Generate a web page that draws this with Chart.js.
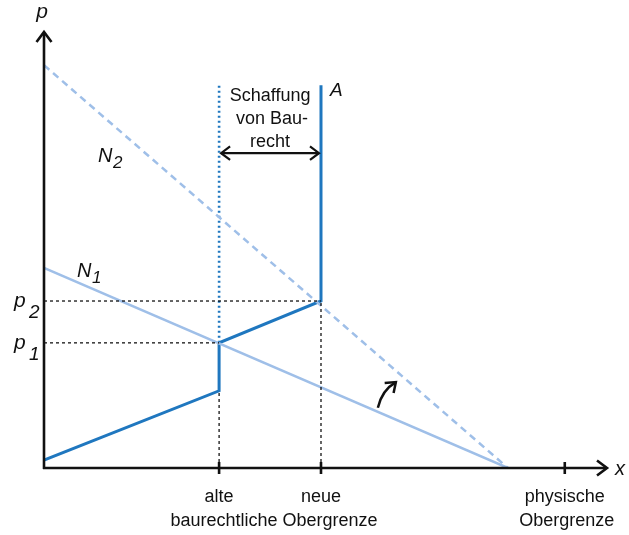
<!DOCTYPE html>
<html lang="de">
<head>
<meta charset="UTF-8">
<title>Baurecht</title>
<style>
    html, body { margin: 0; padding: 0; background: #fff; }
    #wrap { width: 629px; height: 535px; }
</style>
</head>
<body>
<div id="wrap"><canvas id="myChart"></canvas></div>
<script src="https://cdn.jsdelivr.net/npm/chart.js"></script>
<script>
// Werte in Einheiten 0..100 (x: Menge, y: Preis)
const v_xTicks = [31.1, 49.2, 92.5];            // alte, neue, physische Obergrenze
const v_tickLabels = ["alte", "neue", "physische"];
const v_n1X = [0, 82.4];
const v_n1Y = [45.9, 0];
const v_n2X = [0, 82.4];
const v_n2Y = [92.4, 0];
const v_aX = [0, 31.1, 31.1, 49.2, 49.2];
const v_aY = [1.8, 17.7, 28.7, 38.3, 87.8];
const v_pLevels = [28.7, 38.3];                 // p1, p2
const v_pfeilY = 72.2;                          // Schaffung von Baurecht
const v_schubX = [59.3, 62.5];
const v_schubY = [13.8, 19.7];

const c_dunkel = "#1f77bf";
const c_hell = "#9fbfe8";
const c_schwarz = "#111";
const f_font = "'Liberation Sans', Arial, sans-serif";

function f_pts(p_x, p_y) {
    let v_out = [];
    for (let i = 0; i < p_x.length; i++) v_out.push({ x: p_x[i], y: p_y[i] });
    return v_out;
}

function f_guide(p_x, p_y) {
    return {
        data: f_pts(p_x, p_y), borderColor: "#000", borderWidth: 1.2,
        borderDash: [3, 3], pointRadius: 0, showLine: true
    };
}

const v_datasets = [
    f_guide([0, v_xTicks[1]], [v_pLevels[1], v_pLevels[1]]),
    f_guide([0, v_xTicks[0]], [v_pLevels[0], v_pLevels[0]]),
    f_guide([v_xTicks[0], v_xTicks[0]], [0, v_aY[1]]),
    f_guide([v_xTicks[1], v_xTicks[1]], [0, v_aY[3]]),
    {   // N2
        data: f_pts(v_n2X, v_n2Y), borderColor: c_hell, borderWidth: 2.5,
        borderDash: [7, 5], pointRadius: 0, showLine: true
    },
    {   // N1
        data: f_pts(v_n1X, v_n1Y), borderColor: c_hell, borderWidth: 2.5,
        pointRadius: 0, showLine: true
    },
    {   // alte Grenze (gepunktet)
        data: f_pts([v_xTicks[0], v_xTicks[0]], [v_aY[2], v_aY[4]]), borderColor: c_dunkel,
        borderWidth: 2.6, borderDash: [2, 3], borderCapStyle: "butt", pointRadius: 0, showLine: true
    },
    {   // Angebot A
        data: f_pts(v_aX, v_aY), borderColor: c_dunkel, borderWidth: 3,
        pointRadius: 0, showLine: true
    }
];

function f_text(ctx, p_txt, p_x, p_y, p_size, p_italic, p_align) {
    ctx.font = (p_italic ? "italic " : "") + p_size + "px " + f_font;
    ctx.textAlign = p_align || "center";
    ctx.textBaseline = "alphabetic";
    ctx.fillStyle = c_schwarz;
    ctx.fillText(p_txt, p_x, p_y);
}

function f_chevron(ctx, p_x, p_y, p_dx, p_dy, p_len) {
    // Pfeilspitze an (p_x,p_y), Richtung (p_dx,p_dy)
    let v_nx = -p_dy, v_ny = p_dx;
    ctx.beginPath();
    ctx.moveTo(p_x - p_dx * p_len + v_nx * p_len * 0.75, p_y - p_dy * p_len + v_ny * p_len * 0.75);
    ctx.lineTo(p_x, p_y);
    ctx.lineTo(p_x - p_dx * p_len - v_nx * p_len * 0.75, p_y - p_dy * p_len - v_ny * p_len * 0.75);
    ctx.stroke();
}

const p_deko = {
    id: "deko",
    afterDatasetsDraw(chart) {
        const ctx = chart.ctx;
        const sx = chart.scales.x, sy = chart.scales.y;
        const x0 = sx.getPixelForValue(0), y0 = sy.getPixelForValue(0);
        const xEnd = sx.getPixelForValue(100), yEnd = sy.getPixelForValue(100);
        ctx.save();
        ctx.strokeStyle = c_schwarz;
        ctx.lineWidth = 2.6;
        ctx.lineCap = "butt";
        // Achsen
        ctx.beginPath();
        ctx.moveTo(x0, y0 + 1);
        ctx.lineTo(x0, yEnd + 1);
        ctx.moveTo(x0 - 1, y0);
        ctx.lineTo(xEnd - 1, y0);
        ctx.stroke();
        ctx.lineJoin = "miter";
        f_chevron(ctx, x0, yEnd, 0, -1, 10);
        f_chevron(ctx, xEnd, y0, 1, 0, 10);
        // Striche auf x-Achse
        ctx.beginPath();
        for (let v of v_xTicks) {
            let px = sx.getPixelForValue(v);
            ctx.moveTo(px, y0 - 6);
            ctx.lineTo(px, y0 + 6);
        }
        ctx.stroke();
        // Doppelpfeil
        ctx.lineWidth = 2.2;
        let v_ay = sy.getPixelForValue(v_pfeilY);
        let v_ax1 = sx.getPixelForValue(v_xTicks[0]) + 2;
        let v_ax2 = sx.getPixelForValue(v_xTicks[1]) - 2;
        ctx.beginPath();
        ctx.moveTo(v_ax1, v_ay);
        ctx.lineTo(v_ax2, v_ay);
        ctx.stroke();
        f_chevron(ctx, v_ax1, v_ay, -1, 0, 9);
        f_chevron(ctx, v_ax2, v_ay, 1, 0, 9);
        // gebogener Pfeil
        ctx.lineWidth = 2.5;
        let bx1 = sx.getPixelForValue(v_schubX[0]), by1 = sy.getPixelForValue(v_schubY[0]);
        let bx2 = sx.getPixelForValue(v_schubX[1]), by2 = sy.getPixelForValue(v_schubY[1]);
        ctx.beginPath();
        ctx.moveTo(bx1, by1);
        ctx.quadraticCurveTo(bx1 + 4, by2 + 8, bx2, by2);
        ctx.stroke();
        f_chevron(ctx, bx2, by2, 0.75, -0.66, 9);

        // Beschriftung
        f_text(ctx, "p", x0 - 2, 18, 21, true);
        f_text(ctx, "x", xEnd + 13, y0 + 7, 20, true);
        f_text(ctx, "p", 14, sy.getPixelForValue(v_pLevels[1]) + 6, 21, true, "left");
        f_text(ctx, "2", 29, sy.getPixelForValue(v_pLevels[1]) + 17, 19, true, "left");
        f_text(ctx, "p", 14, sy.getPixelForValue(v_pLevels[0]) + 6, 21, true, "left");
        f_text(ctx, "1", 29, sy.getPixelForValue(v_pLevels[0]) + 17, 19, true, "left");
        f_text(ctx, "N", 77, 277, 20, true, "left");
        f_text(ctx, "1", 92, 283, 17, true, "left");
        f_text(ctx, "N", 98, 162, 20, true, "left");
        f_text(ctx, "2", 113, 168, 17, true, "left");
        f_text(ctx, "A", sx.getPixelForValue(v_xTicks[1]) + 9, 96, 19, true, "left");
        let v_mid = (sx.getPixelForValue(v_xTicks[0]) + sx.getPixelForValue(v_xTicks[1])) / 2;
        f_text(ctx, "Schaffung", v_mid, 101, 18);
        f_text(ctx, "von Bau-", v_mid + 2, 124, 18);
        f_text(ctx, "recht", v_mid, 147, 18);
        for (let i = 0; i < v_xTicks.length; i++) {
            f_text(ctx, v_tickLabels[i], sx.getPixelForValue(v_xTicks[i]), y0 + 34, 18);
        }
        f_text(ctx, "baurechtliche Obergrenze", v_mid + 4, y0 + 58, 18);
        f_text(ctx, "Obergrenze", sx.getPixelForValue(v_xTicks[2]) + 2, y0 + 58, 18);
        ctx.restore();
    }
};

const ctx = document.getElementById("myChart");
let myChart = new Chart(ctx, {
    type: "scatter",
    data: { datasets: v_datasets },
    options: {
        responsive: true,
        maintainAspectRatio: false,
        animation: false,
        layout: { padding: { left: 44, right: 22, top: 32, bottom: 67 } },
        plugins: { legend: { display: false }, tooltip: { enabled: false } },
        scales: {
            x: { type: "linear", min: 0, max: 100, display: false },
            y: { type: "linear", min: 0, max: 100, display: false }
        }
    },
    plugins: [p_deko]
});
</script>
</body>
</html>
